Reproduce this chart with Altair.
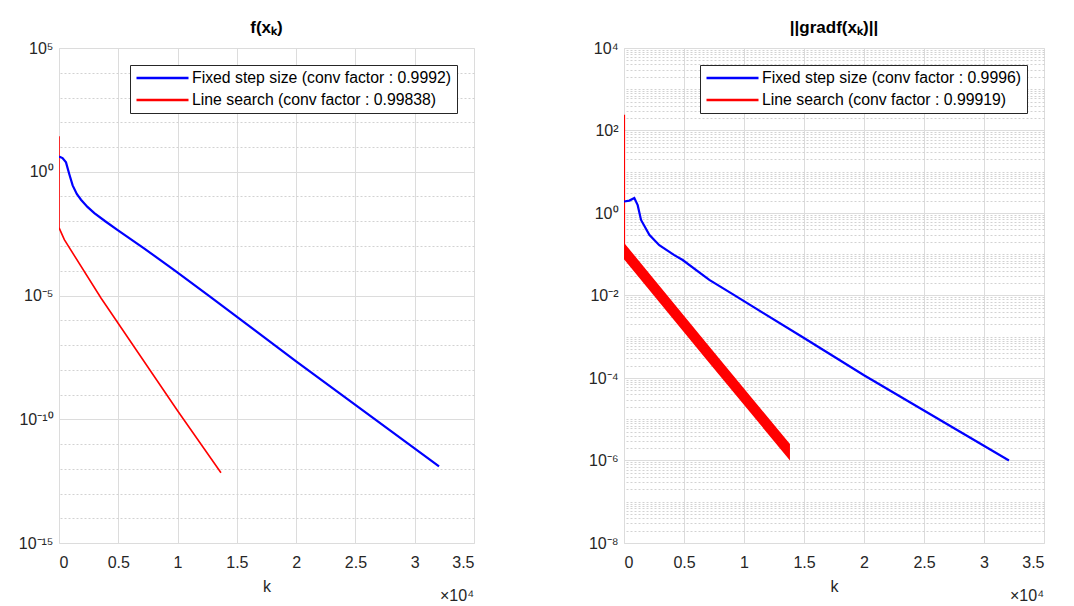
import altair as alt
import pandas as pd

# ---------------- data ----------------
# left panel: f(x_k)
fix1_k = [0, 300, 590, 870, 1150, 1500, 1855, 2400, 2980, 3900, 4950, 7200, 9720, 12680, 20000, 32050]
fix1_f = [4.17, 3.55, 2.4, 0.79, 0.28, 0.126, 0.074, 0.038, 0.0214, 0.01, 0.00437,
          7.9e-4, 1.05e-4, 9.5e-6, 2.2e-8, 1.26e-12]
ls1_k = [0, 0, 450, 3540, 10000, 13660]
ls1_f = [27, 5.5e-3, 1.8e-3, 7.9e-6, 2.2e-10, 6.9e-13]

# right panel: ||gradf(x_k)||
fix2_k = [0, 450, 860, 1140, 1420, 2110, 2940, 4190, 4890, 7110, 9190, 15000, 20000, 32080]
fix2_g = [1.9, 2.0, 2.3, 1.55, 0.68, 0.295, 0.166, 0.0955, 0.0724, 0.024, 0.0102,
          9.3e-4, 1.17e-4, 1.0e-6]
ls2_spike_k = [0, 0]
ls2_spike_g = [240, 0.076]
band_k = [0, 6900, 13830]
band_hi = [0.19, 6.9e-4, 2.5e-6]
band_lo = [0.076, 2.75e-4, 1.0e-6]

left_series = ["Fixed step size (conv factor : 0.9992)", "Line search (conv factor : 0.99838)"]
right_series = ["Fixed step size (conv factor : 0.9996)", "Line search (conv factor : 0.99919)"]

x_ticks = [0, 5000, 10000, 15000, 20000, 25000, 30000, 35000]
x_tick_labels = ["0", "0.5", "1", "1.5", "2", "2.5", "3", "3.5"]
left_y_exps = [5, 0, -5, -10, -15]
left_y_labels = ["10⁵", "10⁰", "10⁻⁵", "10⁻¹⁰", "10⁻¹⁵"]
right_y_exps = [4, 2, 0, -2, -4, -6, -8]
right_y_labels = ["10⁴", "10²", "10⁰", "10⁻²", "10⁻⁴", "10⁻⁶", "10⁻⁸"]

FONT = "Liberation Sans"
TXT = "#262626"
H = 495


def x_label_expr():
    parts = [f"datum.value == {v} ? '{l}'" for v, l in zip(x_ticks, x_tick_labels)]
    return " : ".join(parts) + " : ''"


def y_label_expr(exps, labels):
    parts = [f"abs(log(datum.value)/LN10 - ({e})) < 0.01 ? '{l}'" for e, l in zip(exps, labels)]
    return " : ".join(parts) + " : ''"


def panel(title, width, series, blue_df, red_df, band_df, y_domain, exps, labels, minor):
    xscale = alt.Scale(domain=[0, 35000], nice=False, zero=False)
    yscale = alt.Scale(type="log", domain=y_domain, nice=False)
    color = alt.Color(
        "series:N",
        scale=alt.Scale(domain=series, range=["#0000ff", "#ff0000"]),
        legend=alt.Legend(
            title=None, orient="top-right", offset=17,
            symbolType="M-1,0H7", symbolSize=169, symbolStrokeWidth=2.5,
            labelFontSize=15.8, labelFont=FONT, labelColor="black", labelLimit=600,
            strokeColor=TXT, fillColor="white", padding=5, rowPadding=6,
            labelOffset=41,
        ),
    )
    xax = alt.Axis(values=x_ticks, labelExpr=x_label_expr(), title="k", grid=True,
                   gridColor="#dcdcdc", ticks=False, domain=False, labelPadding=11,
                   titlePadding=8, titleFontWeight="normal", titleFontSize=16,
                   titleColor=TXT, titleFont=FONT, labelFont=FONT, labelFontSize=16,
                   labelColor=TXT)
    yax = alt.Axis(values=[10.0 ** e for e in exps], labelExpr=y_label_expr(exps, labels),
                   title=None, grid=True, gridColor="#dcdcdc", ticks=False, domain=False,
                   labelPadding=6, minExtent=50, maxExtent=50, labelFont=FONT,
                   labelFontSize=16, labelColor=TXT)
    minor_ax = alt.Axis(orient="right", values=minor, grid=True, gridDash=[2, 2],
                        gridColor="#d2d2d2", labels=False, ticks=False, domain=False,
                        title=None, minExtent=0, maxExtent=0)

    grid_layer = alt.Chart(pd.DataFrame({"v": minor})).mark_point(opacity=0).encode(
        y=alt.Y("v:Q", scale=yscale, axis=minor_ax)
    )
    data_layers = []
    if band_df is not None:
        data_layers.append(
            alt.Chart(band_df).mark_area(color="#ff0000", opacity=1).encode(
                x=alt.X("k:Q", scale=xscale, axis=xax),
                y=alt.Y("hi:Q", scale=yscale, axis=yax),
                y2="lo:Q",
            )
        )
    red_w = 1.6 if band_df is None else 2.2
    data_layers.append(
        alt.Chart(red_df).mark_line(strokeWidth=red_w, clip=True).encode(
            x=alt.X("k:Q", scale=xscale, axis=xax),
            y=alt.Y("v:Q", scale=yscale, axis=yax),
            color=color, order="i:Q",
        )
    )
    data_layers.append(
        alt.Chart(blue_df).mark_line(strokeWidth=2.2, clip=True).encode(
            x=alt.X("k:Q", scale=xscale, axis=xax),
            y=alt.Y("v:Q", scale=yscale, axis=yax),
            color=color, order="i:Q",
        )
    )
    data_layers.append(
        alt.Chart(pd.DataFrame({"t": ["×10⁴"]})).mark_text(
            align="right", baseline="middle", fontSize=16, font=FONT, color=TXT
        ).encode(x=alt.datum(35000), y=alt.value(H + 53), text="t:N")
    )
    inner = alt.layer(*data_layers)
    return alt.layer(grid_layer, inner).resolve_axis(y="independent").properties(
        width=width, height=H,
        title=alt.TitleParams(title, fontSize=17, fontWeight="bold", color="black",
                              font=FONT, offset=3),
    )


def line_df(ks, vs, name):
    return pd.DataFrame({"k": ks, "v": vs, "series": name, "i": list(range(len(ks)))})


left_minor = [10.0 ** e for e in range(-14, 5) if e % 5 != 0]
right_minor = [m * 10.0 ** e for e in range(-8, 4) for m in range(1, 10)
               if not (m == 1 and e % 2 == 0)]

left = panel(
    "f(xₖ)", 415, left_series,
    line_df(fix1_k, fix1_f, left_series[0]),
    line_df(ls1_k, ls1_f, left_series[1]),
    None, [1e-15, 1e5], left_y_exps, left_y_labels, left_minor,
)
right = panel(
    "||gradf(xₖ)||", 420, right_series,
    line_df(fix2_k, fix2_g, right_series[0]),
    line_df(ls2_spike_k, ls2_spike_g, right_series[1]),
    pd.DataFrame({"k": band_k, "hi": band_hi, "lo": band_lo}),
    [1e-8, 1e4], right_y_exps, right_y_labels, right_minor,
)

chart = alt.hconcat(left, right, spacing=98).resolve_scale(
    x="independent", y="independent", color="independent"
).properties(
    padding={"left": 0, "top": 10, "right": 5, "bottom": 0}
).configure_view(stroke=TXT, strokeWidth=1).configure(background="white")

chart.save("out.html", embed_options={"renderer": "svg", "actions": False})
